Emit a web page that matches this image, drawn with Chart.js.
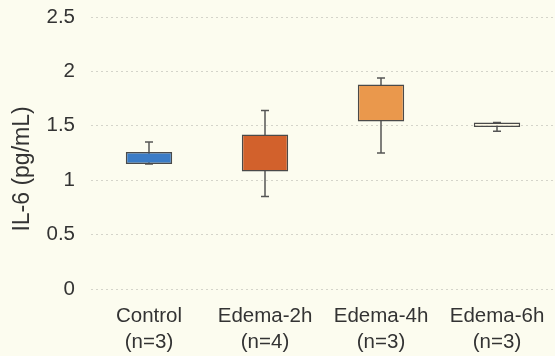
<!DOCTYPE html>
<html>
<head>
<meta charset="utf-8">
<script src="https://cdn.jsdelivr.net/npm/chart.js@4"></script>
<style>
  html, body { margin: 0; padding: 0; background: #fcfcef; }
  #wrap { width: 555px; height: 356px; }
</style>
</head>
<body>
<div id="wrap"><canvas id="il6Chart" width="555" height="356"></canvas></div>
<script>
const groups = ["Control", "Edema-2h", "Edema-4h", "Edema-6h"];
const counts = ["(n=3)", "(n=4)", "(n=3)", "(n=3)"];
const boxLow = [1.15, 1.08, 1.54, 1.49];
const boxHigh = [1.26, 1.42, 1.88, 1.53];
const whiskerLow = [1.15, 0.85, 1.25, 1.45];
const whiskerHigh = [1.35, 1.64, 1.94, 1.53];
const yTicks = [0, 0.5, 1, 1.5, 2, 2.5];

const boxColors = ["#3b7cc6", "#d2612c", "#ea984c", "#fdf8e4"];

// whiskers are drawn under the boxes, through the chart's own scales
const whiskers = {
  id: "whiskers",
  beforeDatasetsDraw(chart) {
    const ctx = chart.ctx;
    const x = chart.scales.x;
    const y = chart.scales.y;
    ctx.save();
    ctx.strokeStyle = "#555555";
    ctx.lineWidth = 1.5;
    groups.forEach((g, i) => {
      const cx = x.getPixelForValue(i);
      const top = y.getPixelForValue(whiskerHigh[i]);
      const bot = y.getPixelForValue(whiskerLow[i]);
      ctx.beginPath();
      ctx.moveTo(cx, top);
      ctx.lineTo(cx, bot);
      ctx.moveTo(cx - 4, top);
      ctx.lineTo(cx + 4, top);
      ctx.moveTo(cx - 4, bot);
      ctx.lineTo(cx + 4, bot);
      ctx.stroke();
    });
    ctx.restore();
  }
};

const el = document.getElementById("il6Chart").getContext("2d");

const il6Chart = new Chart(el, {
  type: "bar",
  data: {
    labels: groups.map((g, i) => [g, counts[i]]),
    datasets: [
      {
        label: "IL-6",
        data: groups.map((g, i) => [boxLow[i], boxHigh[i]]),
        backgroundColor: boxColors,
        borderColor: "#4a4a4a",
        borderWidth: 1.5,
        borderSkipped: false,
        barPercentage: 0.4,
        categoryPercentage: 1,
      },
    ],
  },
  options: {
    responsive: false,
    animation: false,
    layout: { padding: 0 },
    plugins: {
      legend: { display: false },
      tooltip: { enabled: false },
    },
    scales: {
      x: {
        grid: { display: false, drawTicks: false },
        border: { display: false },
        afterFit: (s) => {
          s.height = 67;
          s.paddingLeft = 0;
          s.paddingRight = 0;
        },
        ticks: {
          color: "#333333",
          font: { family: "Liberation Sans, Arial", size: 20.5, lineHeight: 1.27 },
          padding: 14,
          maxRotation: 0,
        },
      },
      y: {
        min: 0,
        max: 2.5,
        afterBuildTicks: (axis) => {
          axis.ticks = yTicks.map((v) => ({ value: v }));
        },
        afterFit: (s) => {
          s.width = 91;
          s.paddingTop = 17;
          s.paddingBottom = 0;
        },
        grid: {
          color: "#d4d4ca",
          lineWidth: 1,
          drawTicks: false,
          borderDash: [2, 3],
        },
        border: { display: false, dash: [2, 3] },
        ticks: {
          color: "#333333",
          font: { family: "Liberation Sans, Arial", size: 20.5 },
          padding: 16,
          callback: (v) => String(v),
        },
        title: {
          display: true,
          // trailing spaces push the label a little below the middle, as in the original
          text: "IL-6 (pg/mL)     ",
          color: "#333333",
          font: { family: "Liberation Sans, Arial", size: 23 },
          padding: { top: 9, bottom: 0 },
        },
      },
    },
  },
  plugins: [whiskers],
});
</script>
</body>
</html>
